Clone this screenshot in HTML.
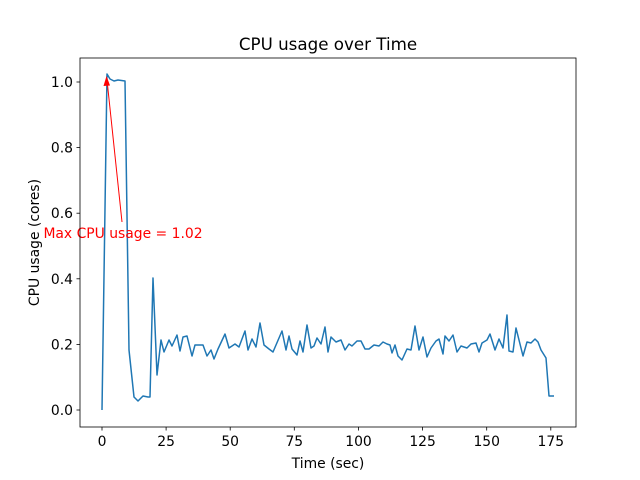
<!DOCTYPE html>
<html><head><style>body{margin:0;background:#fff}svg{display:block;font-family:"DejaVu Sans","Liberation Sans",sans-serif}</style></head>
<body>
<svg width="640" height="480" viewBox="0 0 640 480" xmlns="http://www.w3.org/2000/svg">
<rect width="640" height="480" fill="#fff"/>
<text x="328" y="50" font-size="16.7" text-anchor="middle">CPU usage over Time</text>
<g stroke="#000" stroke-width="0.8">
<line x1="102" y1="427" x2="102" y2="430.5"/><line x1="166.1" y1="427" x2="166.1" y2="430.5"/><line x1="230.2" y1="427" x2="230.2" y2="430.5"/><line x1="294.3" y1="427" x2="294.3" y2="430.5"/><line x1="358.5" y1="427" x2="358.5" y2="430.5"/><line x1="422.6" y1="427" x2="422.6" y2="430.5"/><line x1="486.7" y1="427" x2="486.7" y2="430.5"/><line x1="550.8" y1="427" x2="550.8" y2="430.5"/>
<line x1="80" y1="410" x2="76.5" y2="410"/><line x1="80" y1="344.4" x2="76.5" y2="344.4"/><line x1="80" y1="278.8" x2="76.5" y2="278.8"/><line x1="80" y1="213.2" x2="76.5" y2="213.2"/><line x1="80" y1="147.6" x2="76.5" y2="147.6"/><line x1="80" y1="82" x2="76.5" y2="82"/>
</g>
<g font-size="13.9" text-anchor="middle">
<text x="102" y="446">0</text><text x="166.1" y="446">25</text><text x="230.2" y="446">50</text><text x="294.3" y="446">75</text><text x="358.5" y="446">100</text><text x="422.6" y="446">125</text><text x="486.7" y="446">150</text><text x="550.8" y="446">175</text>
</g>
<g font-size="13.9" text-anchor="end">
<text x="73" y="415">0.0</text><text x="73" y="349.4">0.2</text><text x="73" y="283.8">0.4</text><text x="73" y="218.2">0.6</text><text x="73" y="152.6">0.8</text><text x="73" y="87">1.0</text>
</g>
<text x="328" y="468" font-size="13.9" text-anchor="middle">Time (sec)</text>
<text transform="translate(39,242.5) rotate(-90)" font-size="13.9" text-anchor="middle">CPU usage (cores)</text>
<polyline fill="none" stroke="#1f77b4" stroke-width="1.5" stroke-linejoin="round" points="102,410 107,74 110,79 114,81 118,80 125,81 129,350 134,397 138,401 143,396 148,397 150,397 153,278 157,375 161,340 164,352 169,340 172,346 177,335 180,351 183,337 187,336 192,356 195,345 200,345 203,345 207,356 211,350 214,359 218,349 225,334 229,348 235,344 239,347 245,331 248,350 252,339 256,347 260,323 264,345 269,349 273,352 282,331 286,350 289,336 292,349 297,355 300,341 303,352 307,325 311,348 314,346 317,338 321,344 325,327 328,352 331,337 336,342 341,340 345,350 349,344 352,346 357,341 361,341 365,349 369,349 374,345 379,346 383,342 387,344 390,345 392,353 395,345 398,356 402,360 407,349 411,350 415,326 419,350 423,337 427,357 431,348 436,341 439,339 443,354 445,336 449,341 453,335 457,352 461,346 467,348 471,344 476,343 479,352 482,343 487,340 490,334 495,350 499,339 503,348 507,315 509,351 513,352 516,328 519,340 523,356 527,342 531,343 535,339 538,342 541,350 546,358 549,396 554,396"/>
<line x1="122" y1="222" x2="107" y2="80" stroke="red" stroke-width="1"/>
<path d="M106.5,76 L103.5,86 L110,85.5 Z" fill="red"/>
<text x="123" y="238" font-size="13.9" fill="red" text-anchor="middle">Max CPU usage = 1.02</text>
<rect x="80" y="58" width="496" height="369" fill="none" stroke="#000" stroke-width="0.8"/>
</svg>
</body></html>
